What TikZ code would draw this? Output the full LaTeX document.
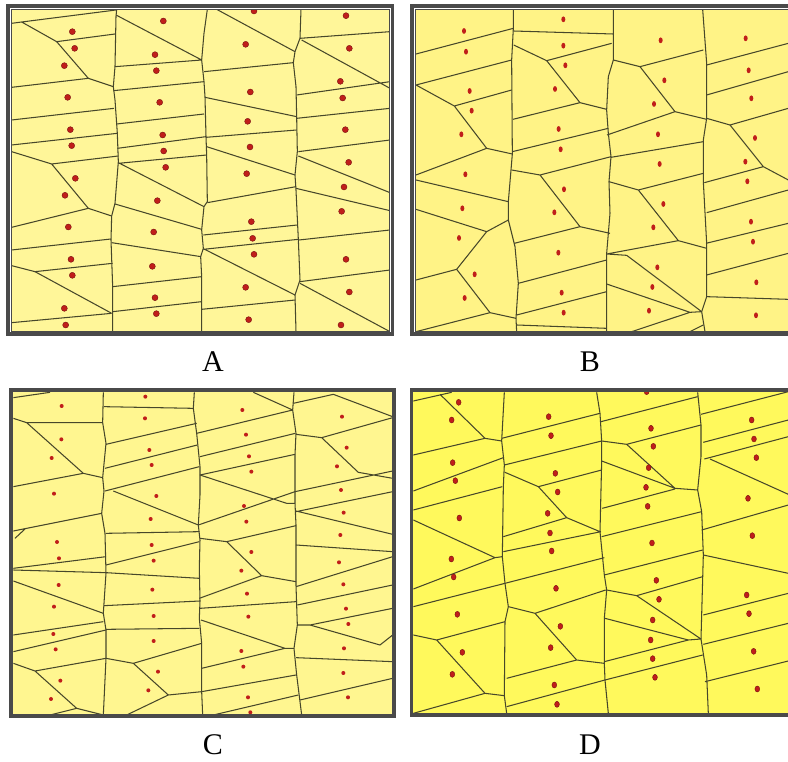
\documentclass[tikz,border=0pt]{standalone}
\usepackage{fontspec}
\setmainfont{Liberation Serif}
\definecolor{fillA}{HTML}{FFF699}
\definecolor{fillB}{HTML}{FFF386}
\definecolor{fillC}{HTML}{FFF690}
\definecolor{fillD}{HTML}{FFF95C}
\definecolor{edgec}{HTML}{47472A}
\definecolor{framec}{HTML}{4A4A4A}
\definecolor{dotc}{HTML}{C01E1A}
\definecolor{dotedge}{HTML}{7A1010}
\tikzset{
  cell/.style={draw=edgec, line width=1.05pt, line join=round},
  dotA/.style={fill=dotc, draw=dotedge, line width=0.4pt},
  lbl/.style={font=\fontsize{30}{36}\selectfont, inner sep=0pt},
  panel/.style={x=0.33333pt, y=-0.33333pt}
}
\begin{document}
\begin{tikzpicture}[x=1pt,y=-1pt]
\path[use as bounding box, fill=white] (0,0) rectangle (788,762);

% ---------------- Panel A ----------------
\begin{scope}[shift={(0pt,0pt)}, panel]
\fill[fillA] (35,28) rectangle (1170,992);
\begin{scope}
\clip (35,28) rectangle (1170,992);
\draw[cell] (350,28)--(348,50)--(345,200)--(340,260)--(345,300)--(352,400)--(355,485)--(345,610)--(335,648)--(333,720)--(338,860)--(338,995);
\draw[cell] (622,28)--(612,100)--(605,180)--(612,245)--(615,290)--(618,410)--(620,465)--(622,605)--(612,620)--(605,690)--(610,745)--(602,770)--(605,830)--(605,995);
\draw[cell] (903,28)--(900,115)--(885,155)--(880,188)--(888,260)--(890,350)--(892,455)--(885,525)--(888,570)--(895,718)--(900,840)--(885,885)--(888,995);
\draw[cell] (35,70)--(65,66)--(348,30)
 (65,66)--(170,125)--(265,235)--(340,260)
 (170,125)--(345,102)
 (35,262)--(265,235)
 (35,360)--(342,325)
 (35,435)--(352,400)
 (35,455)--(155,492)--(265,625)--(335,648)
 (155,492)--(355,468)
 (35,682)--(265,625)
 (35,750)--(333,717)
 (35,797)--(105,815)--(335,940)
 (105,815)--(338,790)
 (35,968)--(335,940);
\draw[cell] (348,45)--(605,180)
 (345,200)--(605,180)
 (340,272)--(612,245)
 (350,372)--(612,342)
 (352,445)--(618,410)
 (355,490)--(620,465)
 (355,488)--(612,620)
 (345,612)--(605,688)
 (335,728)--(603,770)
 (338,860)--(605,830)
 (338,935)--(605,905);
\draw[cell] (650,28)--(885,155)
 (612,215)--(880,188)
 (615,292)--(890,350)
 (618,412)--(890,390)
 (620,440)--(885,525)
 (622,608)--(888,560)
 (610,705)--(892,675)
 (610,748)--(895,718)
 (610,746)--(885,885)
 (605,928)--(886,900);
\draw[cell] (900,115)--(1170,95)
 (905,120)--(1170,265)
 (890,285)--(1170,245)
 (890,355)--(1170,325)
 (895,455)--(1170,420)
 (895,468)--(1170,578)
 (888,565)--(1170,632)
 (897,720)--(1170,690)
 (900,845)--(1170,810)
 (900,850)--(1170,995);
\foreach \p in {(217,95),(224,145),(193,197),(203,292),(211,389),(215,437),(226,535),(195,586),(205,681),(213,778),(217,826),(193,925),(197,975),
 (490,63),(465,164),(469,212),(479,307),(488,405),(491,453),(497,502),(472,602),(461,696),(457,799),(465,893),(469,941),
 (762,33),(737,133),(751,276),(743,364),(750,441),(740,521),(754,665),(758,715),(762,763),(737,862),(746,959),
 (1038,47),(1048,145),(1021,244),(1028,294),(1036,389),(1046,487),(1032,561),(1025,634),(1038,778),(1048,876),(1023,975)}
 \filldraw[dotA] \p circle[radius=3pt];
\end{scope}
\end{scope}
\draw[framec, line width=1.2pt] (11.5,9.5) rectangle (389.5,331.5);
\draw[framec, line width=3.5pt] (8,6) rectangle (392.5,334);

% ---------------- Panel B ----------------
\begin{scope}[shift={(405pt,0pt)}, panel]
\fill[fillB] (33,28) rectangle (1150,995);
\begin{scope}
\clip (33,28) rectangle (1150,995);
\draw[cell] (325,28)--(325,85)--(320,180)--(322,462)--(318,510)--(310,605)--(310,660)--(330,740)--(340,850)--(333,955)--(335,995);
\draw[cell] (625,28)--(625,180)--(610,230)--(605,330)--(610,400)--(618,470)--(612,545)--(615,640)--(605,760)--(605,850)--(605,995);
\draw[cell] (893,28)--(905,190)--(905,355)--(895,420)--(895,545)--(905,730)--(905,890)--(890,935)--(900,995);
\draw[cell] (33,162)--(325,85)
 (33,255)--(320,180)
 (33,255)--(148,318)--(245,445)--(322,462)
 (148,318)--(320,270)
 (33,525)--(245,445)
 (33,540)--(310,605)
 (33,628)--(245,695)--(310,660)
 (245,695)--(155,808)--(255,938)--(333,955)
 (33,840)--(155,808)
 (33,995)--(255,938);
\draw[cell] (325,93)--(625,102)
 (326,135)--(425,182)--(525,308)--(605,328)
 (425,182)--(620,130)
 (324,358)--(525,308)
 (322,455)--(610,385)
 (320,510)--(405,525)--(525,680)--(615,700)
 (405,525)--(618,470)
 (328,730)--(525,680)
 (340,850)--(605,780)
 (335,945)--(605,875)
 (335,975)--(605,985);
\draw[cell] (625,180)--(705,200)--(810,335)--(905,358)
 (705,200)--(895,150)
 (606,405)--(810,335)
 (618,472)--(895,425)
 (612,545)--(700,570)--(820,722)--(905,745)
 (700,570)--(895,520)
 (605,762)--(665,766)--(890,935)
 (605,762)--(820,722)
 (605,852)--(855,937)--(890,935)
 (680,995)--(855,937)
 (855,995)--(895,975);
\draw[cell] (905,195)--(1150,130)
 (905,285)--(1150,215)
 (905,355)--(975,375)--(1075,500)--(1150,540)
 (975,375)--(1150,325)
 (898,548)--(1075,500)
 (905,638)--(1150,570)
 (903,730)--(1150,670)
 (905,825)--(1150,760)
 (905,890)--(1150,898);
\foreach \p in {(177,93),(183,155),(194,273),(200,332),(169,403),(181,523),(172,625),(162,714),(209,823),(179,894),
 (475,58),(475,137),(481,196),(450,267),(461,387),(467,448),(477,568),(448,637),(460,758),(470,878),(476,938),
 (767,121),(778,241),(747,312),(759,403),(764,492),(775,612),(745,682),(757,802),(742,861),(732,932),
 (1022,115),(1031,211),(1039,295),(1050,414),(1021,485),(1027,544),(1038,665),(1044,725),(1054,847),(1053,946)}
 \fill[dotc] \p ellipse[x radius=2pt, y radius=2.9pt];
\end{scope}
\end{scope}
\draw[framec, line width=1.2pt] (788,9.5)--(415.5,9.5)--(415.5,331.5)--(788,331.5);
\draw[framec, line width=3.5pt] (788,6)--(412,6)--(412,334)--(788,334);

% ---------------- Panel C ----------------
\begin{scope}[shift={(0pt,-385pt)}, panel]
\fill[fillC] (40,22) rectangle (1178,988);
\begin{scope}
\clip (40,22) rectangle (1178,988);
\draw[cell] (310,22)--(308,113)--(318,175)--(308,278)--(312,318)--(305,385)--(315,445)--(318,565)--(310,685)--(318,735)--(318,820)--(310,990);
\draw[cell] (583,22)--(580,70)--(590,145)--(600,245)--(600,330)--(595,420)--(600,465)--(598,550)--(600,648)--(598,700)--(605,775)--(605,920)--(608,990);
\draw[cell] (882,22)--(878,75)--(888,145)--(885,210)--(885,320)--(885,355)--(888,420)--(888,600)--(892,720)--(882,790)--(890,870)--(905,990);
\draw[cell] (40,38)--(150,22)
 (40,100)--(80,113)--(250,265)--(308,278)
 (80,113)--(308,113)
 (40,305)--(250,265)
 (40,438)--(305,385)
 (45,460)--(75,432)
 (40,550)--(318,515)
 (40,555)--(318,563)
 (40,588)--(310,685)
 (40,750)--(310,710)
 (40,800)--(318,735)
 (40,835)--(105,858)--(230,970)--(310,990)
 (105,858)--(318,820)
 (150,990)--(230,970);
\draw[cell] (312,65)--(580,70)
 (318,178)--(590,115)
 (315,250)--(592,180)
 (315,318)--(598,245)
 (340,318)--(595,420)
 (318,445)--(598,440)
 (318,540)--(598,470)
 (318,563)--(598,580)
 (312,662)--(600,648)
 (318,733)--(598,730)
 (318,820)--(400,835)--(505,930)--(605,920)
 (400,835)--(605,775)
 (380,990)--(505,930);
\draw[cell] (760,22)--(878,75)
 (590,145)--(878,75)
 (600,215)--(886,145)
 (600,270)--(885,208)
 (600,270)--(860,355)--(885,355)
 (595,420)--(885,320)
 (600,460)--(680,470)--(785,572)--(888,590)
 (680,470)--(888,422)
 (598,640)--(785,572)
 (600,670)--(888,650)
 (603,705)--(855,790)--(882,790)
 (605,850)--(855,790)
 (605,920)--(888,870)
 (640,990)--(895,930);
\draw[cell] (880,55)--(1000,28)--(1178,95)
 (888,148)--(965,158)--(1075,262)--(1178,280)
 (965,158)--(1178,98)
 (885,320)--(1178,258)
 (888,380)--(1178,320)
 (888,378)--(1178,448)
 (888,480)--(1178,500)
 (888,605)--(1178,515)
 (892,660)--(1178,600)
 (930,720)--(1178,670)
 (892,720)--(930,720)--(1140,780)--(1178,750)
 (888,818)--(1178,830)
 (900,945)--(1178,880);
\foreach \p in {(185,63),(184,163),(155,219),(162,326),(171,471),(177,520),(176,600),(162,665),(160,747),(167,793),(181,887),(153,942),
 (436,35),(435,100),(448,195),(455,240),(469,333),(452,402),(455,480),(461,527),(457,614),(461,693),(461,768),(474,860),(445,916),
 (727,75),(738,149),(747,214),(754,260),(732,363),(739,410),(754,501),(724,557),(741,626),(745,695),(724,798),(730,845),(744,937),(751,982),
 (1026,95),(1040,188),(1011,244),(1023,315),(1031,383),(1021,450),(1017,532),(1030,598),(1038,671),(1045,717),(1032,790),(1030,864),(1044,937)}
 \fill[dotc] \p circle[radius=2pt];
\end{scope}
\end{scope}
\draw[framec, line width=4pt] (11.3,390.3) rectangle (393.8,716);

% ---------------- Panel D ----------------
\begin{scope}[shift={(405pt,-385pt)}, panel]
\fill[fillD] (25,20) rectangle (1150,985);
\begin{scope}
\clip (25,20) rectangle (1150,985);
\draw[cell] (298,22)--(290,168)--(298,240)--(295,305)--(292,515)--(300,595)--(310,665)--(300,710)--(298,932)--(305,985);
\draw[cell] (575,22)--(585,85)--(590,168)--(590,230)--(585,440)--(598,570)--(605,615)--(598,700)--(598,835)--(600,885)--(610,985);
\draw[cell] (878,22)--(888,120)--(888,215)--(878,315)--(890,380)--(895,510)--(888,762)--(905,870)--(910,985);
\draw[cell] (25,48)--(140,22)
 (105,28)--(240,160)--(290,168)
 (25,210)--(240,160)
 (25,318)--(295,218)
 (25,375)--(292,305)
 (25,405)--(270,518)--(292,515)
 (25,612)--(270,518)
 (25,665)--(300,595)
 (25,750)--(95,765)--(240,925)--(298,932)
 (95,765)--(300,710)
 (25,985)--(240,925);
\draw[cell] (290,160)--(585,85)
 (298,240)--(590,168)
 (300,262)--(400,305)--(485,398)--(585,440)
 (400,305)--(590,255)
 (295,455)--(485,398)
 (295,500)--(588,440)
 (300,595)--(598,518)
 (310,665)--(390,685)--(515,825)--(598,835)
 (390,685)--(602,615)
 (305,880)--(515,825)
 (305,965)--(600,885);
\draw[cell] (588,110)--(878,35)
 (590,168)--(665,178)--(810,310)--(878,315)
 (665,178)--(888,120)
 (590,228)--(810,310)
 (592,370)--(810,312)
 (590,455)--(890,380)
 (598,570)--(893,495)
 (605,615)--(695,632)--(888,762)
 (695,632)--(893,575)
 (600,700)--(850,765)--(888,762)
 (598,830)--(850,765)
 (600,885)--(893,810);
\draw[cell] (888,88)--(1150,20)
 (895,172)--(1150,105)
 (898,222)--(1150,155)
 (915,222)--(1150,328)
 (890,435)--(1150,360)
 (895,510)--(1150,565)
 (895,690)--(1150,625)
 (895,778)--(1150,715)
 (900,890)--(1150,828);
\foreach \p in {(161,52),(140,105),(143,233),(151,287),(163,399),(139,522),(146,576),(157,688),(172,802),(142,868),
 (431,95),(438,152),(451,265),(458,321),(428,385),(435,444),(440,498),(453,610),(466,724),(437,788),(448,900),(456,958),
 (725,20),(738,130),(745,184),(731,248),(723,307),(728,364),(741,474),(754,586),(762,643),(743,705),(737,765),(743,821),(750,877),
 (1040,105),(1047,162),(1054,218),(1029,340),(1042,452),(1025,630),(1032,686),(1046,799),(1057,912)}
 \filldraw[dotA] \p ellipse[x radius=2.4pt, y radius=3pt];
\end{scope}
\end{scope}
\draw[framec, line width=3.4pt] (788,390)--(411.7,390)--(411.7,715)--(788,715);

% ---------------- Labels ----------------
\node[lbl] (la) at (213,362) {A};
\node[lbl] (lb) at (590,362) {B};
\node[lbl] (lc) at (213,745) {C};
\node[lbl] (ld) at (590,745) {D};
\end{tikzpicture}
\end{document}
